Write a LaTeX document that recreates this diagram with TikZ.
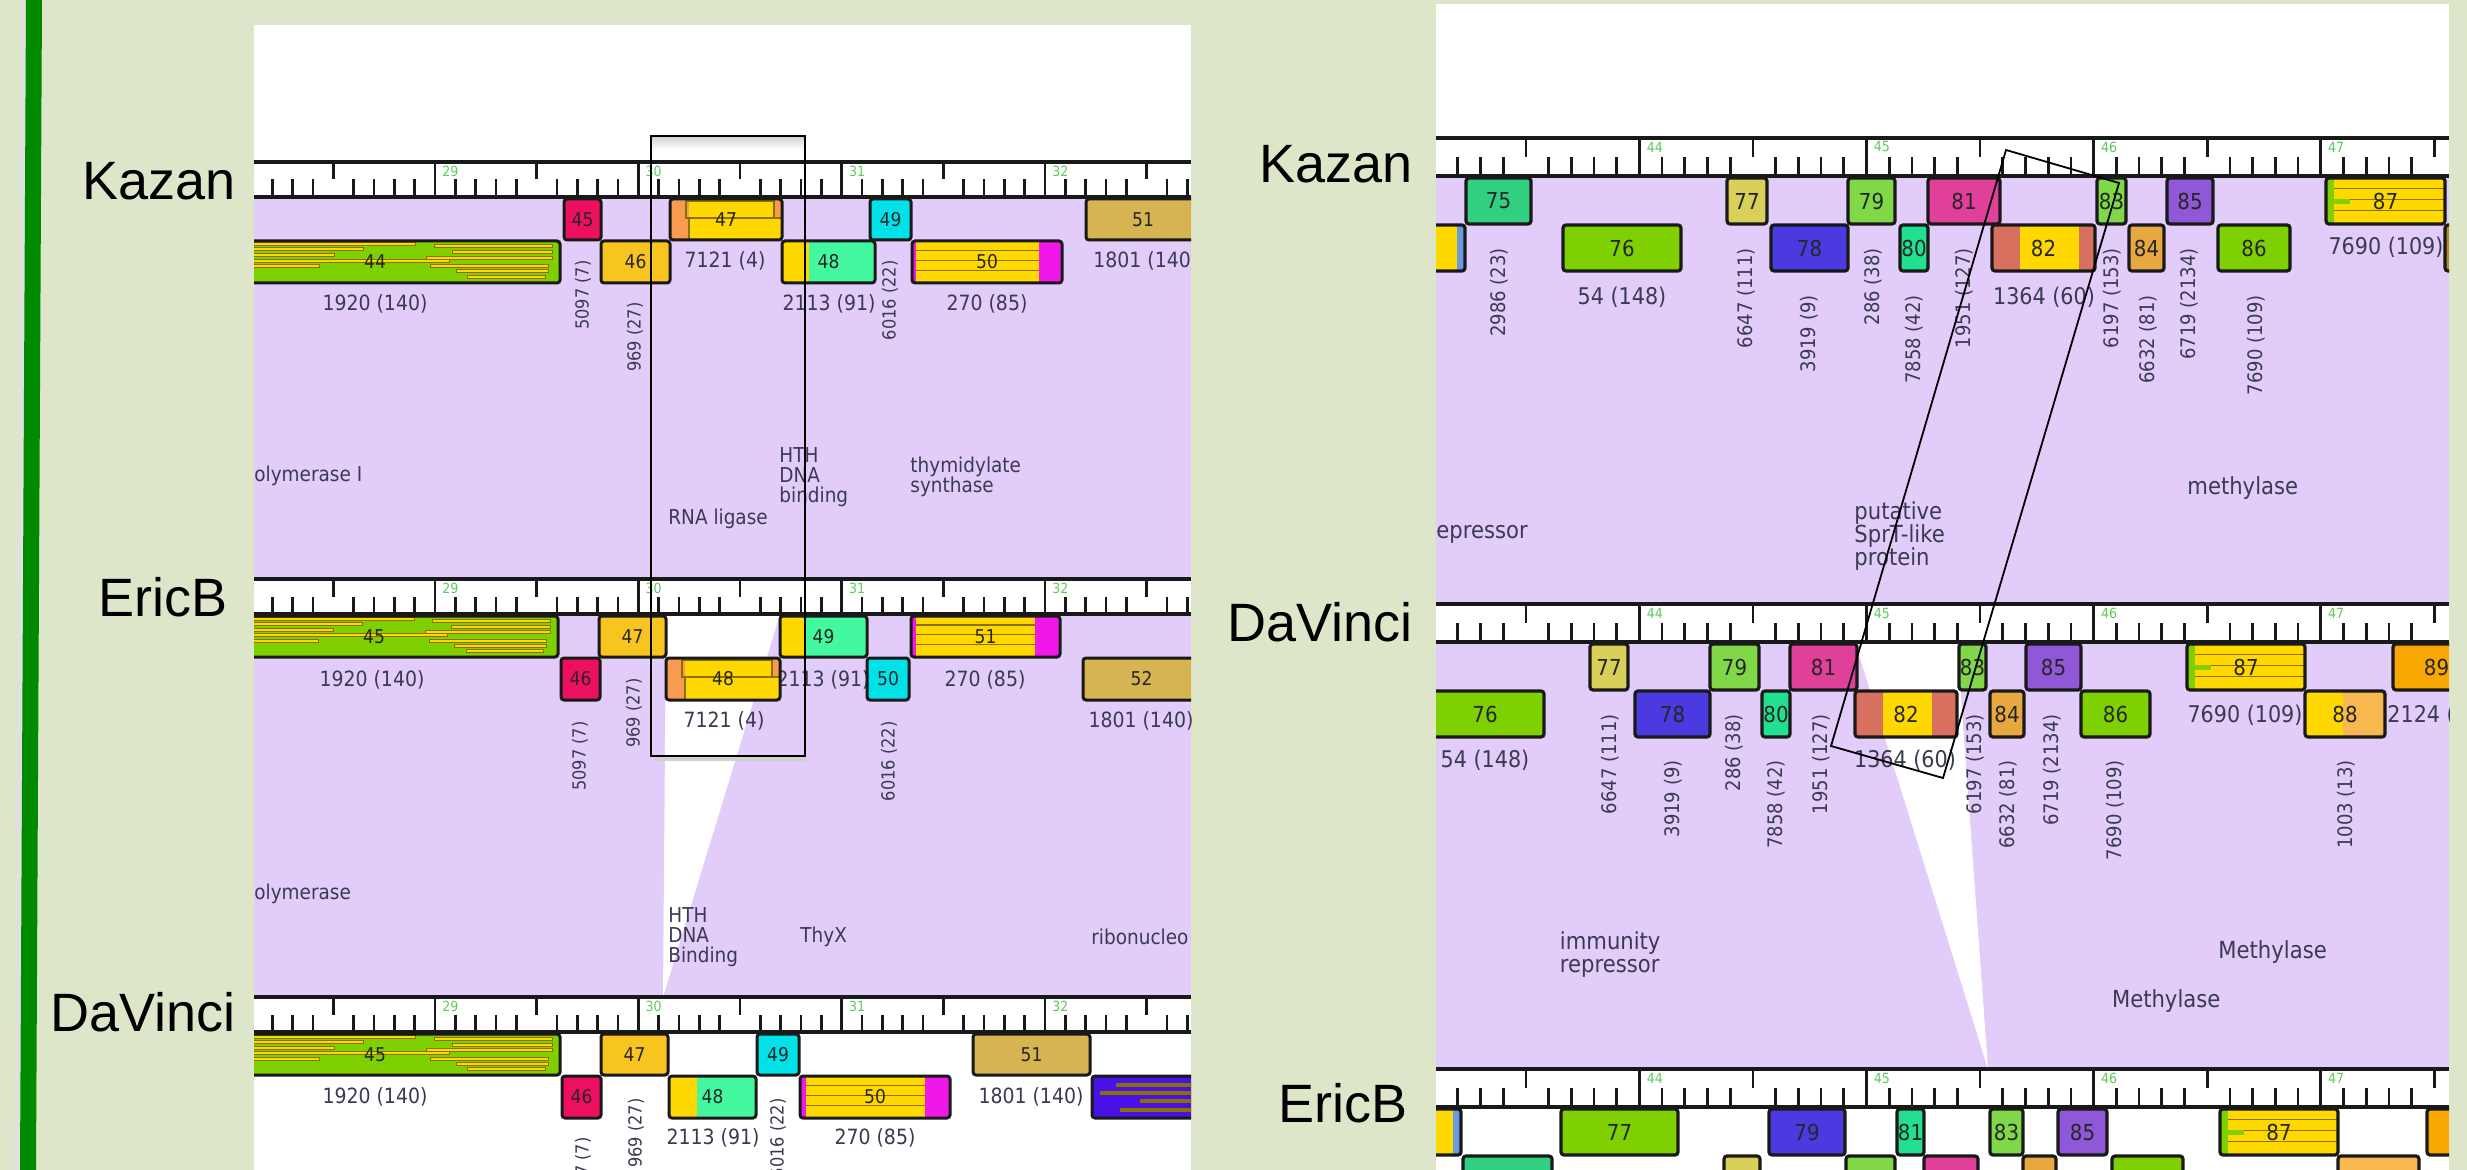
\documentclass[tikz,border=0pt]{standalone}
\usepackage{fontspec}
\setmainfont{Liberation Sans}
\newfontfamily\namefont{Liberation Sans}
\newfontfamily\lblfont[FakeStretch=0.9]{DejaVu Sans}
\definecolor{bgGreen}{HTML}{DEE6C9}
\definecolor{barGreen}{HTML}{008A00}
\definecolor{lavender}{HTML}{E2CCFA}
\definecolor{geneCrimson}{HTML}{EE1060}
\definecolor{geneGold}{HTML}{F8C420}
\definecolor{geneYellow}{HTML}{FFD800}
\definecolor{geneOrange}{HTML}{F89A50}
\definecolor{geneMint}{HTML}{44F8A0}
\definecolor{geneCyan}{HTML}{00E2E8}
\definecolor{geneMagenta}{HTML}{F018E8}
\definecolor{geneTan}{HTML}{D6B452}
\definecolor{geneLime}{HTML}{7ED000}
\definecolor{geneTeal}{HTML}{30D080}
\definecolor{geneKhaki}{HTML}{D8D058}
\definecolor{geneBlue}{HTML}{4A3AE0}
\definecolor{geneGreen}{HTML}{80D848}
\definecolor{geneSea}{HTML}{22E090}
\definecolor{genePink}{HTML}{E0409A}
\definecolor{geneSalmon}{HTML}{D87060}
\definecolor{geneAmber}{HTML}{E8A840}
\definecolor{genePurple}{HTML}{9058D8}
\definecolor{geneApricot}{HTML}{F8B850}
\definecolor{geneOrangeB}{HTML}{F8A800}
\definecolor{geneSky}{HTML}{6A9AE0}
\definecolor{geneViolet}{HTML}{4A10E8}
\definecolor{geneBrown}{HTML}{B88A28}
\definecolor{stripeOlive}{HTML}{8A7000}
\definecolor{labelInk}{HTML}{3A3A50}
\definecolor{rulerGreen}{HTML}{5CCB58}

% gene box: name, x0, x1, ytop, ybot, fill, number, extras
\newcommand{\gene}[8]{%
  \begin{scope}
    \clip[rounded corners=1.5pt] (#2,#4) rectangle (#3,#5);
    \fill[#6] (#2,#4) rectangle (#3,#5);
    #8
  \end{scope}
  \draw[geneline] (#2,#4) rectangle (#3,#5);
  \node[genenum] (#1) at ({(#2+#3)/2},{(#4+#5)/2}) {#7};
}
% ruler: name, x0, x1, ytop, ybot, x of first kb, px per kb, first kb, last kb
\newcommand{\ruler}[9]{%
  \fill[white] (#2,#4) rectangle (#3,#5);
  \foreach \k in {#8,...,#9} {
    \foreach \tk in {0,...,9} {
      \pgfmathsetmacro{\tkx}{#6+(\k-#8)*#7+\tk*#7/10}
      \ifnum\tk=0
        \draw[tickline] (\tkx,#4) -- (\tkx,#5);
      \else\ifnum\tk=5
        \draw[tickline] (\tkx,#4) -- (\tkx,{(#4+#5)/2});
      \else
        \draw[tickline] (\tkx,{(#4+#5)/2}) -- (\tkx,#5);
      \fi\fi
    }
    \node[rulernum, anchor=west] (#1\k) at ({#6+(\k-#8)*#7+7},{#4+9}) {\k};
  }
  \draw[rulerline] (#2,#4) -- (#3,#4);
  \draw[rulerline] (#2,#5) -- (#3,#5);
}
\newcommand{\greenstripes}[4]{%
  \foreach \ga/\gb/\gf in {0/.61/.08, 0/.47/.2, 0/.39/.33, 0/.70/.47, 0/.35/.6,
      .66/.98/.12, .71/.98/.26, .64/.98/.4, .65/.97/.6, .72/.97/.72, .75/.96/.86}
    \filldraw[stripe] ({#1+\ga*(#2-#1)},{#3+\gf*#4-1.5}) rectangle ({#1+\gb*(#2-#1)},{#3+\gf*#4+1.5});
}
\newcommand{\yellowstripes}[4]{%
  \foreach \gf in {.22,.46,.7}
    \draw[stripeOlive, line width=0.6pt] (#1,{#3+\gf*#4}) -- (#2,{#3+\gf*#4});
}
\newcommand{\rnaligase}[3]{%
  \fill[geneOrange] (#1,#3) rectangle ({#1+19},{#3+41});
  \fill[geneOrange] ({#2-8},#3) rectangle (#2,{#3+19});
  \draw[stripeOlive, line width=0.6pt] ({#1+16},{#3+2}) rectangle ({#2-8},{#3+19});
  \draw[stripeOlive, line width=0.6pt] ({#1+19},{#3+19}) -- (#2,{#3+19});
  \draw[stripeOlive, line width=0.6pt] ({#1+19},{#3+19}) -- ({#1+19},{#3+41});
}
\newcommand{\violetstripes}[3]{%
  \foreach \ga/\gf in {24/.22, 8/.4, 48/.6, 28/.8}
    \fill[stripeOlive] ({#1+\ga},{#3+\gf*42-2}) rectangle (#2,{#3+\gf*42+2});
}

\begin{document}
\begin{tikzpicture}[x=0.5pt, y=-0.5pt,
    geneline/.style={draw=black!90, line width=1.5pt, rounded corners=1.5pt},
    tickline/.style={draw=black!90, line width=1.35pt},
    rulerline/.style={draw=black!90, line width=1.8pt},
    stripe/.style={fill=geneYellow, draw=stripeOlive, line width=0.5pt},
    rulernum/.style={font=\lblfont\fontsize{7}{7}\selectfont, text=rulerGreen, inner sep=0},
    numL/.style={font=\lblfont\fontsize{9.5}{10}\selectfont, text=black!85, inner sep=0},
    numR/.style={font=\lblfont\fontsize{11}{12}\selectfont, text=black!85, inner sep=0},
    lblL/.style={font=\lblfont\fontsize{10.5}{12}\selectfont, text=labelInk, inner sep=0},
    lblR/.style={font=\lblfont\fontsize{11.5}{13}\selectfont, text=labelInk, inner sep=0},
    rotL/.style={font=\lblfont\fontsize{9}{10}\selectfont, text=labelInk, inner sep=0, rotate=90, anchor=east},
    rotR/.style={font=\lblfont\fontsize{10}{11}\selectfont, text=labelInk, inner sep=0, rotate=90, anchor=east},
    funL/.style={font=\lblfont\fontsize{10.25}{10}\selectfont, text=labelInk, inner sep=0, align=left, anchor=west},
    funR/.style={font=\lblfont\fontsize{11.75}{11.5}\selectfont, text=labelInk, inner sep=0, align=left, anchor=west},
    genome/.style={font=\namefont\fontsize{27}{30}\selectfont, inner sep=0, anchor=base east}
]
    \fill[bgGreen] (0,0) rectangle (2467,1170);
    \useasboundingbox (0,0) rectangle (2467,1170);
    \fill[black!12] (21,0) -- (26,0) -- (20,1170) -- (15,1170) -- cycle;
    \fill[barGreen] (26,0) -- (42,0) -- (36,1170) -- (20,1170) -- cycle;

    % genome names
    \node[genome] (kazanL) at (236,200) {Kazan};
    \node[genome] (ericbL) at (228,617) {EricB};
    \node[genome] (davinciL) at (236,1031) {DaVinci};
    \node[genome] (kazanR) at (1413,183) {Kazan};
    \node[genome] (davinciR) at (1413,641) {DaVinci};
    \node[genome] (ericbR) at (1408,1122) {EricB};

    % left panel
    \begin{scope}[genenum/.style=numL]
        \clip (254,25) rectangle (1191,1170);
        \fill[white] (254,25) rectangle (1191,1170);
        \fill[lavender] (254,197) rectangle (1191,579);
        \fill[lavender] (254,614) rectangle (1191,997);
        \fill[white] (666,614) -- (780,614) -- (663,997) -- cycle;
        \ruler{kzL}{254}{1191}{162}{197}{231.7}{203.3}{28}{32}
        \ruler{ebL}{254}{1191}{579}{614}{231.7}{203.3}{28}{32}
        \ruler{dvL}{254}{1191}{997}{1032}{231.7}{203.3}{28}{32}

        \foreach \x/\y/\txt [count=\i] in {375/304/1920 (140), 725/261/7121 (4), 829/304/2113 (91), 987/304/270 (85),
            372/680/1920 (140), 724/721/7121 (4), 823/680/2113 (91), 985/680/270 (85), 1141/721/1801 (140),
            375/1097/1920 (140), 1031/1097/1801 (140), 713/1138/2113 (91), 875/1138/270 (85)}
            \node[lblL] (lblL\i) at (\x,\y) {\txt};
        \node[lblL, anchor=west] (lblLcut) at (1093,261) {1801 (140};
        \foreach \x/\y/\txt [count=\i] in {583/260/5097 (7), 635/302/969 (27), 890/260/6016 (22),
            580/721/5097 (7), 634/678/969 (27), 889/721/6016 (22),
            583/1137/5097 (7), 636/1098/969 (27), 778/1098/6016 (22)}
            \node[rotL] (rotL\i) at (\x,\y) {\txt};
        \node[funL] (fnkz44) at (254,476) {olymerase I};
        \node[funL] (fnkz47) at (668,519) {RNA ligase};
        \node[funL] (fnkz48) at (779,477) {HTH\\DNA\\binding};
        \node[funL] (fnkz50) at (910,477) {thymidylate\\synthase};
        \node[funL] (fneb45) at (254,894) {olymerase};
        \node[funL] (fneb48) at (668,937) {HTH\\DNA\\Binding};
        \node[funL] (fneb51) at (800,937) {ThyX};
        \node[funL] (fneb52) at (1091,937) {ribonucleo};

        % Kazan
        \gene{kz44}{190}{560}{241}{283}{geneLime}{44}{\greenstripes{190}{560}{241}{42}}
        \gene{kz45}{564}{601}{199}{240}{geneCrimson}{45}{}
        \gene{kz46}{601}{670}{241}{283}{geneGold}{46}{}
        \gene{kz47}{670}{782}{199}{240}{geneYellow}{47}{\rnaligase{670}{782}{199}}
        \gene{kz48}{782}{875}{241}{283}{geneMint}{48}{\fill[geneYellow] (782,241) rectangle (809,283);}
        \gene{kz49}{870}{911}{199}{240}{geneCyan}{49}{}
        \gene{kz50}{912}{1062}{241}{283}{geneYellow}{50}{\yellowstripes{916}{1039}{241}{42}
            \fill[geneMagenta] (912,241) rectangle (916,283); \fill[geneMagenta] (1039,241) rectangle (1062,283);}
        \gene{kz51}{1086}{1200}{199}{240}{geneTan}{51}{}
        % EricB
        \gene{eb45}{190}{558}{616}{657}{geneLime}{45}{\greenstripes{190}{558}{616}{41}}
        \gene{eb46}{561}{600}{658}{700}{geneCrimson}{46}{}
        \gene{eb47}{599}{666}{616}{657}{geneGold}{47}{}
        \gene{eb48}{666}{780}{658}{700}{geneYellow}{48}{\rnaligase{666}{780}{658}}
        \gene{eb49}{780}{867}{616}{657}{geneMint}{49}{\fill[geneYellow] (780,616) rectangle (805,657);}
        \gene{eb50}{867}{909}{658}{700}{geneCyan}{50}{}
        \gene{eb51}{911}{1060}{616}{657}{geneYellow}{51}{\yellowstripes{916}{1035}{616}{41}
            \fill[geneMagenta] (911,616) rectangle (916,657); \fill[geneMagenta] (1035,616) rectangle (1060,657);}
        \gene{eb52}{1083}{1200}{658}{700}{geneTan}{52}{}
        % DaVinci
        \gene{dv45}{190}{560}{1034}{1075}{geneLime}{45}{\greenstripes{190}{560}{1034}{41}}
        \gene{dv46}{562}{601}{1076}{1118}{geneCrimson}{46}{}
        \gene{dv47}{601}{668}{1034}{1075}{geneGold}{47}{}
        \gene{dv48}{669}{756}{1076}{1118}{geneMint}{48}{\fill[geneYellow] (669,1076) rectangle (697,1118);}
        \gene{dv49}{757}{799}{1034}{1075}{geneCyan}{49}{}
        \gene{dv50}{800}{950}{1076}{1118}{geneYellow}{50}{\yellowstripes{806}{925}{1076}{42}
            \fill[geneMagenta] (800,1076) rectangle (806,1118); \fill[geneMagenta] (925,1076) rectangle (950,1118);}
        \gene{dv51}{973}{1090}{1034}{1075}{geneTan}{51}{}
        \gene{dv52}{1092}{1330}{1076}{1118}{geneViolet}{}{\violetstripes{1092}{1330}{1076}}
    \end{scope}
    \fill[top color=black!18, bottom color=white] (652,137) rectangle (804,149);
    \draw[black!18, line width=2pt] (654,759) -- (807,759);
    \draw[black, line width=0.9pt] (651,136) rectangle (805,756);

    % right panel
    \begin{scope}[genenum/.style=numR, geneline/.style={draw=black!90, line width=1.6pt, rounded corners=1.5pt}]
        \clip (1436,4) rectangle (2449,1170);
        \fill[white] (1436,4) rectangle (2449,1170);
        \fill[lavender] (1436,176) rectangle (2449,604);
        \fill[lavender] (1436,642) rectangle (2449,1069);
        \fill[white] (1855,642) -- (1957,642) -- (1988,1069) -- cycle;
        \ruler{kzR}{1436}{2449}{138}{176}{1412.3}{227.1}{43}{47}
        \ruler{dvR}{1436}{2449}{604}{642}{1412.3}{227.1}{43}{47}
        \ruler{ebR}{1436}{2449}{1069}{1107}{1412.3}{227.1}{43}{47}

        \foreach \x/\y/\txt [count=\i] in {1622/297/54 (148), 2044/297/1364 (60), 2386/247/7690 (109),
            1485/760/54 (148), 1905/760/1364 (60), 2245/715/7690 (109)}
            \node[lblR] (lblR\i) at (\x,\y) {\txt};
        \node[lblR, anchor=west] (lblRcut) at (2387,715) {2124 (};
        \foreach \x/\y/\txt [count=\i] in {1499/248/2986 (23), 1746/248/6647 (111), 1809/295/3919 (9),
            1873.5/248/286 (38), 1914/295/7858 (42), 1964.5/248/1951 (127), 2112/248/6197 (153),
            2148/295/6632 (81), 2189/248/6719 (2134), 2256/295/7690 (109),
            1610.5/714/6647 (111), 1673/760/3919 (9), 1734/714/286 (38), 1776.6/760/7858 (42),
            1821/714/1951 (127), 1975/714/6197 (153), 2008/760/6632 (81), 2052/714/6719 (2134),
            2115.5/760/7690 (109), 2346/760/1003 (13)}
            \node[rotR] (rotR\i) at (\x,\y) {\txt};
        \node[funR] (fnkz78) at (1436,534) {epressor};
        \node[funR] (fnkz81) at (1854,536) {putative\\SprT-like\\protein};
        \node[funR] (fnkz86) at (2187,488) {methylase};
        \node[funR] (fndv77) at (1559.5,955) {immunity\\repressor};
        \node[funR] (fndv86) at (2218,952.5) {Methylase};
        \node[funR] (fndv87) at (2111.6,1001) {Methylase};

        % Kazan
        \gene{kz74}{1380}{1465}{225}{271}{geneYellow}{}{\fill[geneSky] (1457,225) rectangle (1465,271);}
        \gene{kz75}{1466}{1531}{178}{224}{geneTeal}{75}{}
        \gene{kz76}{1563}{1681}{225}{271}{geneLime}{76}{}
        \gene{kz77}{1727}{1767}{178}{224}{geneKhaki}{77}{}
        \gene{kz78}{1771}{1848}{225}{271}{geneBlue}{78}{}
        \gene{kz79}{1848}{1895}{178}{224}{geneGreen}{79}{}
        \gene{kz80}{1900}{1928}{225}{271}{geneSea}{80}{}
        \gene{kz81}{1928}{2000}{178}{224}{genePink}{81}{}
        \gene{kz82}{1992}{2095}{225}{271}{geneSalmon}{82}{\fill[geneYellow] (2020,225) rectangle (2079,271);}
        \gene{kz83}{2097}{2126}{178}{224}{geneGreen}{83}{}
        \gene{kz84}{2129}{2164}{225}{271}{geneAmber}{84}{}
        \gene{kz85}{2167}{2213}{178}{224}{genePurple}{85}{}
        \gene{kz86}{2218}{2290}{225}{271}{geneLime}{86}{}
        \gene{kz87}{2326}{2445}{178}{224}{geneYellow}{87}{\yellowstripes{2334}{2445}{178}{46}
            \fill[geneLime] (2326,178) rectangle (2334,224); \fill[geneLime] (2334,199) rectangle (2350,204);}
        \gene{kz88}{2445}{2560}{225}{271}{geneBrown}{}{}
        % DaVinci
        \gene{dv76}{1426}{1544}{691}{737}{geneLime}{76}{}
        \gene{dv77}{1590}{1628}{644}{690}{geneKhaki}{77}{}
        \gene{dv78}{1635}{1710}{691}{737}{geneBlue}{78}{}
        \gene{dv79}{1710}{1759}{644}{690}{geneGreen}{79}{}
        \gene{dv80}{1762}{1790}{691}{737}{geneSea}{80}{}
        \gene{dv81}{1790}{1857}{644}{690}{genePink}{81}{}
        \gene{dv82}{1855}{1957}{691}{737}{geneSalmon}{82}{\fill[geneYellow] (1883,691) rectangle (1932,737);}
        \gene{dv83}{1959}{1986}{644}{690}{geneGreen}{83}{}
        \gene{dv84}{1990}{2024}{691}{737}{geneAmber}{84}{}
        \gene{dv85}{2026}{2081}{644}{690}{genePurple}{85}{}
        \gene{dv86}{2081}{2150}{691}{737}{geneLime}{86}{}
        \gene{dv87}{2187}{2305}{644}{690}{geneYellow}{87}{\yellowstripes{2195}{2305}{644}{46}
            \fill[geneLime] (2187,644) rectangle (2195,690); \fill[geneLime] (2195,665) rectangle (2211,670);}
        \gene{dv88}{2305}{2385}{691}{737}{geneApricot}{88}{\fill[geneYellow] (2305,691) rectangle (2343,737);}
        \gene{dv89}{2393}{2480}{644}{690}{geneOrangeB}{89}{}
        % EricB
        \gene{ebr76}{1380}{1461}{1109}{1155}{geneYellow}{}{\fill[geneSky] (1453,1109) rectangle (1461,1155);}
        \gene{ebr77}{1561}{1678}{1109}{1155}{geneLime}{77}{}
        \gene{ebr79}{1769}{1845}{1109}{1155}{geneBlue}{79}{}
        \gene{ebr81}{1897}{1924}{1109}{1155}{geneSea}{81}{}
        \gene{ebr83}{1990}{2023}{1109}{1155}{geneGreen}{83}{}
        \gene{ebr85}{2058}{2107}{1109}{1155}{genePurple}{85}{}
        \gene{ebr87}{2220}{2338}{1109}{1155}{geneYellow}{87}{\yellowstripes{2228}{2338}{1109}{46}
            \fill[geneLime] (2220,1109) rectangle (2228,1155); \fill[geneLime] (2228,1130) rectangle (2244,1135);}
        \gene{ebr89}{2427}{2520}{1109}{1155}{geneOrangeB}{}{}
        \gene{ebr78}{1463}{1552}{1156}{1202}{geneTeal}{}{}
        \gene{ebr80}{1724}{1760}{1156}{1202}{geneKhaki}{}{}
        \gene{ebr82}{1846}{1895}{1156}{1202}{geneGreen}{}{}
        \gene{ebr84}{1924}{1978}{1156}{1202}{genePink}{}{}
        \gene{ebr86}{2023}{2056}{1156}{1202}{geneAmber}{}{}
        \gene{ebr88}{2112}{2183}{1156}{1202}{geneLime}{}{}
        \gene{ebr90}{2338}{2419}{1156}{1202}{geneApricot}{}{}
    \end{scope}
    \draw[black, line width=0.9pt] (2006,150) -- (2119,183) -- (1943,778) -- (1831,746) -- cycle;
\end{tikzpicture}
\end{document}
